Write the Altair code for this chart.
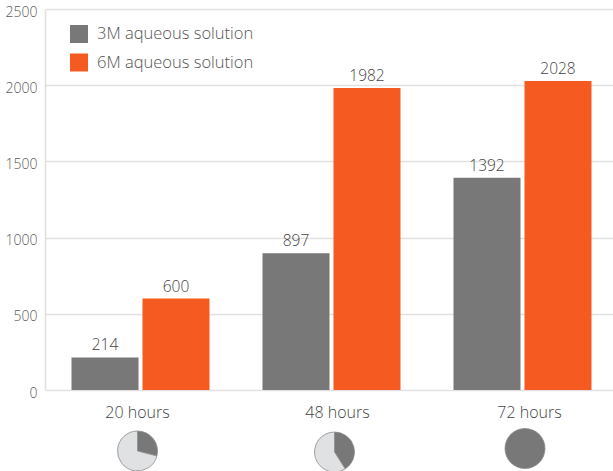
import altair as alt
import pandas as pd

hours = ["20 hours", "48 hours", "72 hours"]
series_names = ["3M aqueous solution", "6M aqueous solution"]
values_3m = [214, 897, 1392]
values_6m = [600, 1982, 2028]
converted_share = [0.29, 0.41, 1.0]

GREY = "#797879"
ORANGE = "#f55b20"
PALE = "#e0e1e3"
GRID = "#e2e1e1"
FONT = "Open Sans"

bars = pd.DataFrame({
    "hours": hours * 2,
    "series": [series_names[0]] * 3 + [series_names[1]] * 3,
    "value": values_3m + values_6m,
})

x_scale = alt.Scale(domain=hours, range=[0, 573], paddingInner=0.2775, paddingOuter=0.13875)
x_enc = alt.X("hours:N", scale=x_scale, axis=None)
x_off = alt.XOffset("series:N", scale=alt.Scale(domain=series_names, paddingInner=0.056, paddingOuter=0))
y_enc = alt.Y(
    "value:Q",
    scale=alt.Scale(domain=[0, 2500], nice=False),
    axis=alt.Axis(
        values=[0, 500, 1000, 1500, 2000, 2500], format="d", title=None, grid=True, gridColor=GRID, gridWidth=1.6,
        ticks=False, domainColor=GRID, domainWidth=1.6, labelFont=FONT, labelFontSize=14, labelFontWeight=300,
        labelColor="#5c5c5c", labelPadding=8, labelOffset=3,
    ),
)

bar_layer = alt.Chart(bars).mark_bar().encode(
    x=x_enc, xOffset=x_off, y=y_enc,
    color=alt.Color(
        "series:N",
        scale=alt.Scale(domain=series_names, range=[GREY, ORANGE]),
        legend=alt.Legend(
            title=None, orient="none", legendX=25, legendY=16, symbolType="square", symbolSize=324,
            symbolStrokeWidth=0, symbolOpacity=1, labelFont=FONT, labelFontSize=16.5, labelFontWeight=300,
            labelColor="#555555", labelOffset=9, rowPadding=10.5, padding=0,
        ),
    ),
)

value_labels = alt.Chart(bars).mark_text(
    baseline="bottom", dy=-4, font=FONT, fontSize=15.5, fontWeight=300, color="#444444"
).encode(x=x_enc, xOffset=x_off, y="value:Q", text="value:Q")

layers = [bar_layer, value_labels]

# Hour captions sit under the axis, nudged off the group centres
for hour, nudge in zip(hours, [-3, 6, 7]):
    layers.append(
        alt.Chart(pd.DataFrame({"hours": [hour], "zero": [0]})).mark_text(
            baseline="middle", dx=nudge, dy=23, font=FONT, fontSize=16, fontWeight=300, color="#444444"
        ).encode(x=x_enc, y="zero:Q", text="hours:N")
    )

# One small pie per duration, showing the converted share
for share, cx, cy in zip(converted_share, [137.5, 334.5, 525], [442, 443, 439.5]):
    parts = [("converted", share)]
    if share < 1:
        parts.append(("remaining", 1 - share))
    pie = pd.DataFrame(parts, columns=["part", "share"]).assign(rank=lambda d: range(len(d)))
    layers.append(
        alt.Chart(pie).mark_arc(outerRadius=20, stroke="#8c8c8c", strokeWidth=0.8).encode(
            theta=alt.Theta("share:Q", stack=True, scale=alt.Scale(domain=[0, 1], range=[0, 6.2832])),
            order=alt.Order("rank:Q"),
            fill=alt.Fill("part:N", scale=alt.Scale(domain=["converted", "remaining"], range=[GREY, PALE]), legend=None),
            x=alt.value(cx - 45),
            y=alt.value(cy),
        )
    )

chart = alt.layer(*layers).resolve_scale(color="independent").properties(
    width=568,
    height=381,
    padding={"left": 45, "top": 9, "right": 0, "bottom": 81},
    autosize=alt.AutoSizeParams(type="none"),
    background="white",
).configure_view(stroke=None)

chart.save("out.html", embed_options={"renderer": "svg", "actions": False})
